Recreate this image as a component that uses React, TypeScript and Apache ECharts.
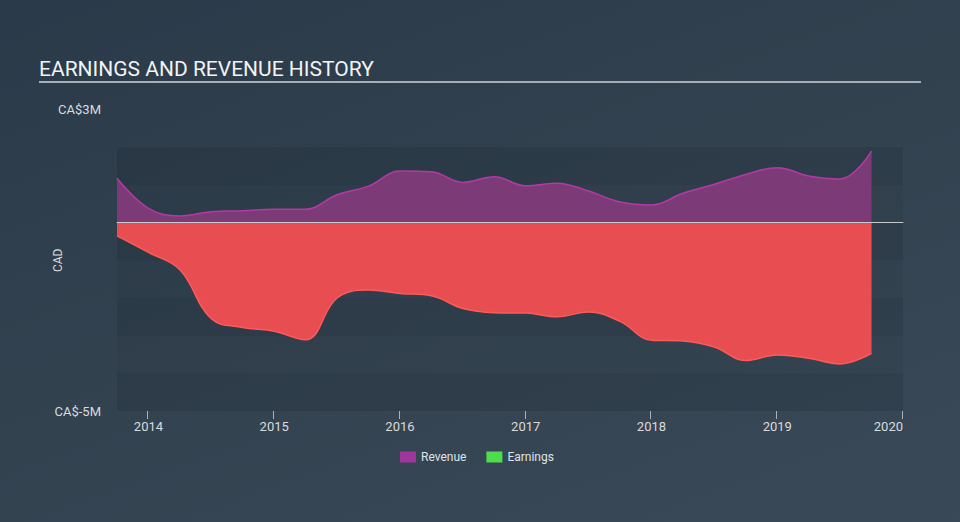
import React, { useEffect, useRef } from "react";
import * as echarts from "echarts";

const quarters = [
  "2013-09", "2013-12", "2014-03", "2014-06", "2014-09", "2014-12", "2015-03", "2015-06",
  "2015-09", "2015-12", "2016-03", "2016-06", "2016-09", "2016-12", "2017-03", "2017-06",
  "2017-09", "2017-12", "2018-03", "2018-06", "2018-09", "2018-12", "2019-03", "2019-06", "2019-09",
];
// CAD millions
const revenue = [
  1.18, 0.38, 0.18, 0.29, 0.32, 0.36, 0.36, 0.74, 0.97, 1.37, 1.35, 1.07, 1.22,
  0.98, 1.05, 0.84, 0.55, 0.47, 0.78, 1.02, 1.28, 1.46, 1.24, 1.16, 1.9,
];
const earnings = [
  -0.35, -0.79, -1.25, -2.55, -2.78, -2.88, -3.11, -2.0, -1.79, -1.88, -1.94, -2.28, -2.39,
  -2.4, -2.5, -2.37, -2.62, -3.12, -3.14, -3.3, -3.66, -3.51, -3.6, -3.75, -3.47,
];
const yearTicks = [2014, 2015, 2016, 2017, 2018, 2019, 2020];
const seriesNames = ["Revenue", "Earnings"];

const toYear = (q: string) => {
  const [y, m] = q.split("-").map(Number);
  return y + m / 12;
};

export default function App() {
  const ref = useRef<HTMLDivElement>(null);
  useEffect(() => {
    document.body.style.margin = "0";
    const chart = echarts.init(ref.current!, null, { renderer: "svg" });
    const xs = quarters.map(toYear);
    const underline = {
      type: "line",
      shape: { x1: 39, y1: 82, x2: 921, y2: 82 },
      style: { stroke: "#a7aeb6", lineWidth: 2 },
    };
    const yMin = -5;
    chart.setOption({
      animation: false,
      textStyle: { fontFamily: "Roboto" },
      title: {
        text: "EARNINGS AND REVENUE HISTORY",
        left: 34,
        top: 53,
        textStyle: { color: "#f2f3f4", fontSize: 21, fontWeight: "normal", fontFamily: "Roboto" },
      },
      graphic: [underline],
      legend: {
        left: 395,
        top: 446,
        itemWidth: 16,
        itemHeight: 11,
        itemGap: 20,
        icon: "rect",
        textStyle: { color: "#dfe3e6", fontSize: 12 },
        data: [
          { name: seriesNames[0], itemStyle: { color: "#a0369c" } },
          { name: seriesNames[1], itemStyle: { color: "#4ddd4d" } },
        ],
      },
      grid: { left: 117, right: 57, top: 109.7, bottom: 111 },
      xAxis: {
        type: "value",
        min: 2013.75,
        max: 2020,
        splitLine: { show: false },
        axisLine: { show: true, lineStyle: { color: "#a9b3bd", width: 1 } },
        axisTick: { show: false },
        axisLabel: {
          customValues: yearTicks,
          color: "#d8dbde",
          fontSize: 13,
          margin: 9,
          alignMaxLabel: "right",
          formatter: (v: number) => String(Math.round(v)),
        },
      },
      yAxis: {
        type: "value",
        min: yMin,
        max: 3,
        interval: 1,
        name: "CAD",
        nameLocation: "middle",
        nameGap: 53,
        nameRotate: 90,
        nameMoveOverlap: false,
        nameTextStyle: { color: "#d8dbde", fontSize: 12 },
        axisLine: { show: false },
        axisTick: { show: false },
        splitLine: { show: false },
        splitArea: {
          show: true,
          areaStyle: {
            color: [
              "rgba(15,25,35,0.15)",
              "rgba(15,25,35,0.07)",
              "rgba(15,25,35,0.15)",
              "rgba(15,25,35,0.07)",
              "rgba(15,25,35,0.15)",
              "rgba(15,25,35,0.07)",
              "rgba(15,25,35,0.15)",
              "rgba(0,0,0,0)",
            ],
          },
        },
        axisLabel: {
          color: "#d8dbde",
          fontSize: 13,
          margin: 16,
          formatter: (v: number) => (v === 3 ? "CA$3M" : v === -5 ? "CA$-5M" : ""),
        },
      },
      series: [
        {
          name: "zero",
          type: "line",
          data: [],
          z: 1,
          markLine: {
            silent: true,
            symbol: "none",
            label: { show: false },
            lineStyle: { color: "#c5cad0", width: 1, type: "solid" },
            data: [{ yAxis: 0 }],
          },
        },
        {
          name: seriesNames[0],
          type: "line",
          smooth: 0.4,
          symbol: "none",
          data: xs.map((x, i) => [x, revenue[i]]),
          lineStyle: { color: "#b23aa6", width: 1.5 },
          itemStyle: { color: "#a0369c" },
          areaStyle: { color: "#7c3b77", opacity: 1 },
          z: 2,
        },
        {
          name: seriesNames[1],
          type: "line",
          smooth: 0.4,
          symbol: "none",
          data: xs.map((x, i) => [x, earnings[i]]),
          lineStyle: { color: "#ff5a5a", width: 1.5 },
          itemStyle: { color: "#4ddd4d" },
          areaStyle: { color: "#e84e51", opacity: 1 },
          z: 3,
        },
      ],
    });
    // axis ticks at whole years, placed through the chart's own scale
    const ticks = yearTicks.map((yr) => {
      const [px, py] = chart.convertToPixel({ xAxisIndex: 0, yAxisIndex: 0 }, [yr, yMin]) as number[];
      const x = Math.round(px) - 0.5;
      return {
        type: "line",
        shape: { x1: x, y1: py, x2: x, y2: py + 8 },
        style: { stroke: "#a9b3bd", lineWidth: 1 },
      };
    });
    chart.setOption({ graphic: [underline, ...ticks] });
    return () => chart.dispose();
  }, []);
  return (
    <div
      style={{
        position: "fixed",
        left: 0,
        top: 0,
        width: 960,
        height: 522,
        background: "linear-gradient(160deg, #2b3a4a 0%, #33424f 50%, #394958 100%)",
      }}
    >
      <div ref={ref} style={{ width: 960, height: 522 }} />
    </div>
  );
}
